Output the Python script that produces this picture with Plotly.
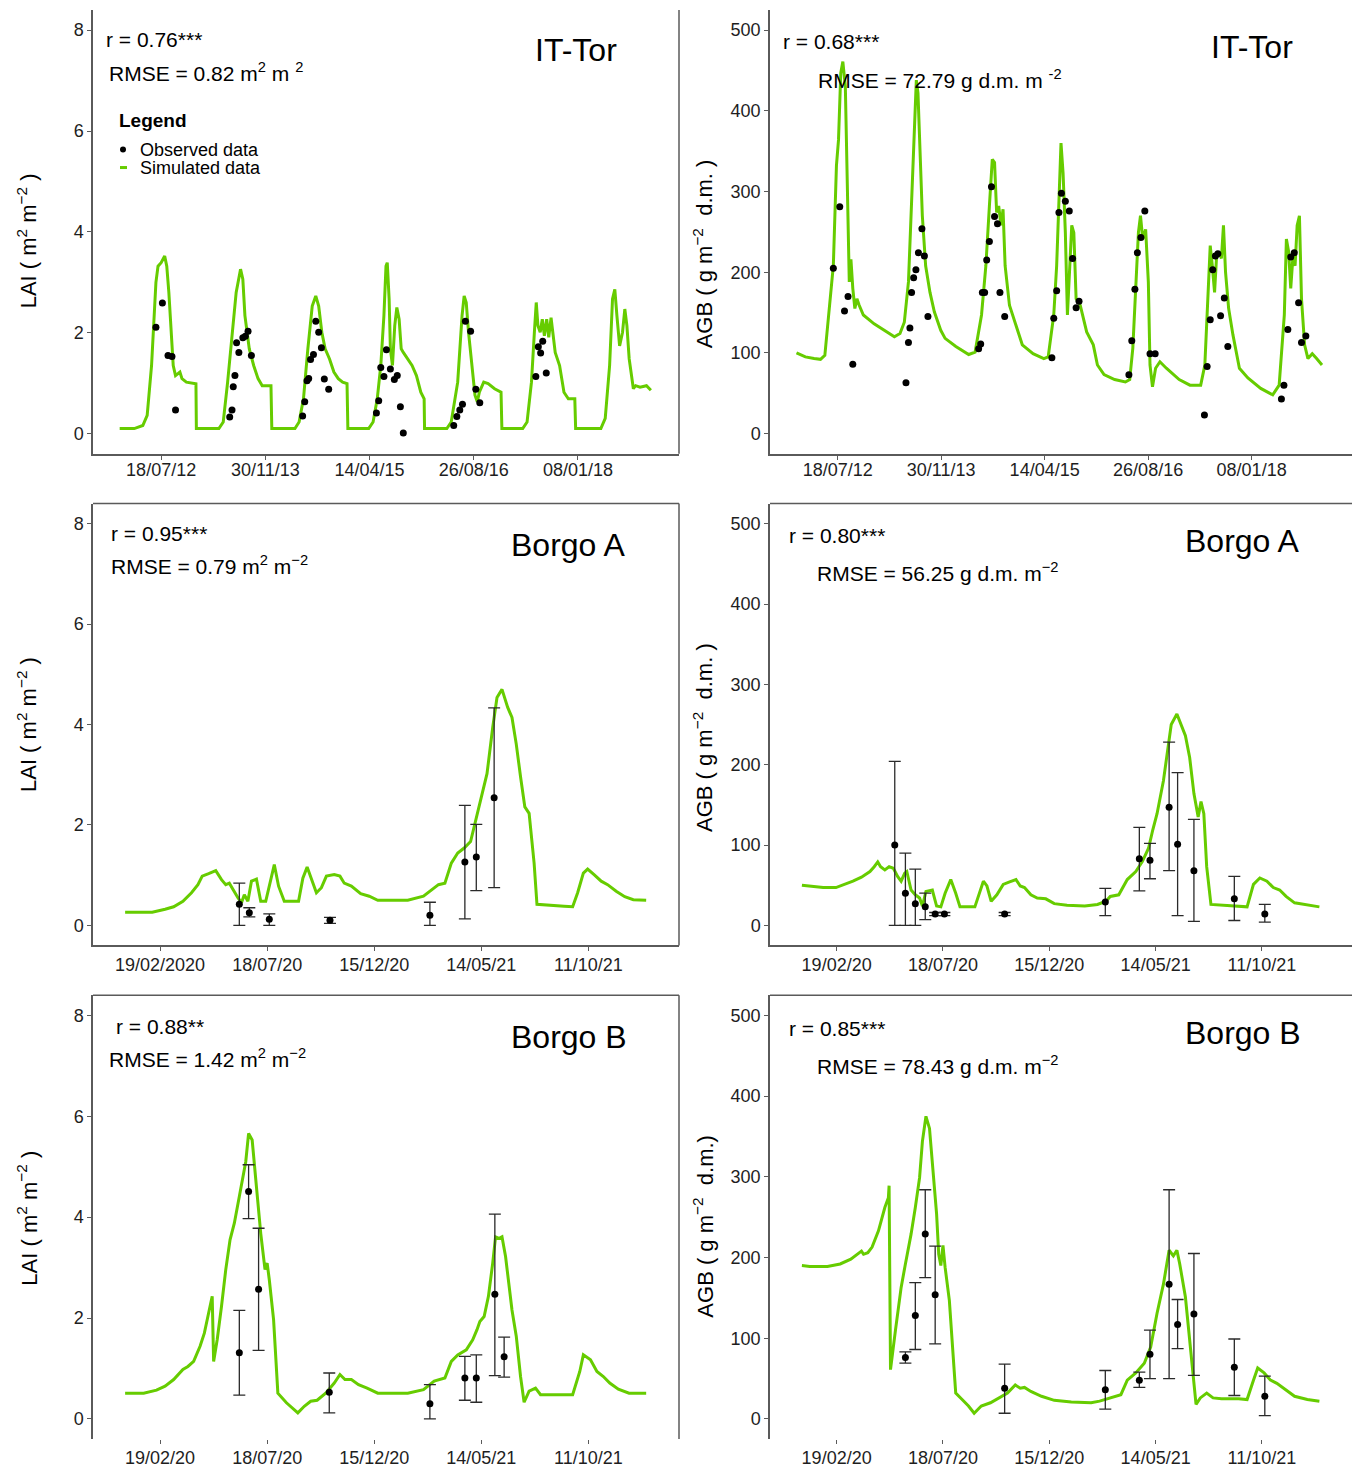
import pandas as pd
import plotly.graph_objects as go

FONT = "Liberation Sans, Arial, sans-serif"
GREEN = "#66CC00"

TOR_START = "2012-01-01"
BORGO_START = "2020-01-01"

# ---------------- IT-Tor ----------------
TOR_TICKS = ["2012-07-18", "2013-11-30", "2015-04-14", "2016-08-26", "2018-01-08"]
TOR_TICKTEXT = ["18/07/12", "30/11/13", "14/04/15", "26/08/16", "08/01/18"]

TOR_LAI_SIM_DAY = [0, 70, 111, 132, 153, 174, 184, 199, 216, 226, 236, 247, 257, 268, 289, 299, 320, 366, 368,
                   476, 497, 518, 539, 559, 580, 591, 601, 622, 643, 664, 684, 726, 730,
                   841, 861, 882, 903, 924, 941, 955, 970, 986, 1007, 1028, 1049, 1070, 1091, 1095,
                   1195, 1216, 1236, 1253, 1268, 1278, 1284, 1293, 1299, 1309, 1320, 1330, 1341, 1351, 1361,
                   1382, 1403, 1424, 1445, 1461, 1463,
                   1570, 1591, 1622, 1643, 1653, 1663, 1674, 1691, 1705, 1716, 1726, 1747, 1768, 1799, 1830, 1834,
                   1934, 1955, 1976, 1990, 1999, 2007, 2018, 2028, 2038, 2049, 2059, 2070, 2080, 2090, 2111,
                   2132, 2153, 2184, 2188,
                   2309, 2330, 2351, 2365, 2376, 2386, 2399, 2413, 2424, 2434, 2445, 2465, 2476, 2497, 2528, 2549]
TOR_LAI_SIM = [0.10, 0.10, 0.16, 0.36, 1.35, 3.00, 3.32, 3.39, 3.52, 3.32, 2.80, 2.01, 1.35, 1.15, 1.22, 1.09, 1.02, 0.99, 0.10,
               0.10, 0.23, 1.02, 2.01, 2.80, 3.26, 3.06, 2.34, 1.68, 1.35, 1.09, 0.95, 0.95, 0.10,
               0.10, 0.23, 0.69, 1.68, 2.53, 2.73, 2.53, 2.01, 1.68, 1.48, 1.22, 1.09, 1.02, 0.99, 0.10,
               0.10, 0.23, 0.69, 1.35, 2.34, 3.32, 3.39, 2.67, 1.68, 1.35, 2.14, 2.50, 2.27, 1.68, 1.61,
               1.48, 1.35, 1.15, 0.82, 0.69, 0.10,
               0.10, 0.23, 1.02, 2.34, 2.73, 2.60, 2.01, 1.35, 0.76, 0.63, 0.82, 1.02, 0.99, 0.89, 0.82, 0.10,
               0.10, 0.23, 1.02, 2.01, 2.60, 2.14, 2.01, 2.27, 1.94, 2.27, 1.91, 2.30, 1.88, 1.61, 1.35,
               0.82, 0.69, 0.69, 0.10,
               0.10, 0.30, 1.35, 2.67, 2.86, 2.34, 1.74, 2.01, 2.47, 2.14, 1.48, 0.89, 0.95, 0.92, 0.95, 0.86]

TOR_LAI_OBS_DAY = [174, 205, 232, 251, 268,
                   528, 539, 545, 553, 561, 572, 591, 603, 616, 632,
                   878, 888, 899, 907, 916, 930, 941, 955, 968, 982, 1003,
                   1232, 1243, 1253, 1268, 1280, 1299, 1318, 1332, 1347, 1361,
                   1603, 1618, 1632, 1645, 1659, 1684, 1709, 1728,
                   1997, 2009, 2020, 2030, 2047]
TOR_LAI_OBS = [2.11, 2.59, 1.55, 1.53, 0.47,
               0.33, 0.47, 0.93, 1.15, 1.80, 1.61, 1.90, 1.93, 2.03, 1.55,
               0.35, 0.63, 1.05, 1.09, 1.47, 1.57, 2.23, 2.01, 1.70, 1.08, 0.88,
               0.41, 0.65, 1.31, 1.13, 1.66, 1.28, 1.07, 1.15, 0.53, 0.01,
               0.16, 0.34, 0.47, 0.58, 2.23, 2.03, 0.88, 0.61,
               1.13, 1.72, 1.60, 1.83, 1.20]

TOR_AGB_SIM_DAY = [0, 43, 85, 116, 137, 157, 178, 193, 203, 214, 224, 236, 247, 255, 263, 272, 282, 292, 303, 323,
                   375, 427, 473, 500, 521, 541, 556, 568, 579, 587, 595, 608, 624, 645, 666, 697, 718, 770,
                   832, 863, 894, 915, 932, 946, 957, 967, 977, 988, 998, 1008, 1029, 1060, 1091, 1143,
                   1195, 1216, 1243, 1257, 1268, 1278, 1288, 1299, 1309, 1320, 1330, 1340, 1351, 1371, 1402,
                   1434, 1454, 1486, 1537, 1589, 1610, 1625, 1637, 1652, 1662, 1673, 1687, 1700, 1708, 1720,
                   1735, 1756, 1787, 1849, 1901, 1953, 1973, 1988, 1999, 2009, 2020, 2030, 2040, 2053, 2063,
                   2073, 2088, 2109, 2140, 2181, 2243, 2301, 2332, 2357, 2367, 2378, 2388, 2398, 2409, 2419,
                   2430, 2440, 2455, 2471, 2492, 2513, 2539]
TOR_AGB_SIM = [100, 95, 93, 92, 97, 147, 208, 332, 364, 447, 461, 430, 290, 188, 216, 180, 155, 167, 159, 147,
               136, 128, 120, 124, 138, 188, 290, 373, 438, 422, 352, 270, 208, 175, 151, 128, 118, 108,
               98, 101, 147, 208, 282, 340, 336, 274, 282, 258, 278, 208, 159, 134, 110, 99,
               93, 95, 147, 208, 282, 360, 323, 249, 147, 208, 258, 249, 167, 159, 126,
               110, 85, 73, 67, 64, 67, 106, 175, 249, 270, 241, 253, 188, 85, 58,
               81, 89, 81, 67, 60, 60, 85, 167, 233, 208, 175, 221, 225, 217, 258,
               200, 155, 122, 81, 69, 56, 48, 60, 147, 241, 225, 180, 217, 208, 258,
               270, 167, 110, 93, 99, 93, 85]

TOR_AGB_OBS_DAY = [178, 209, 232, 249, 272,
                   529, 541, 548, 556, 566, 577, 589, 606, 618, 635,
                   880, 890, 898, 909, 919, 932, 942, 957, 971, 983, 1006,
                   1234, 1243, 1257, 1268, 1280, 1299, 1318, 1334, 1351, 1365,
                   1606, 1620, 1635, 1647, 1664, 1683, 1708, 1733,
                   1971, 1984, 1999, 2011, 2024, 2036, 2049, 2067, 2084,
                   2343, 2355, 2374, 2388, 2405, 2426, 2440, 2461]
TOR_AGB_OBS = [205, 281, 152, 170, 86,
               63, 113, 131, 175, 193, 203, 224, 254, 220, 145,
               105, 111, 175, 175, 215, 238, 306, 269, 260, 175, 145,
               94, 143, 177, 274, 298, 288, 276, 217, 156, 164,
               73, 115, 179, 224, 243, 276, 99, 99,
               23, 83, 141, 203, 220, 223, 146, 168, 108,
               43, 60, 129, 219, 224, 162, 113, 121]

# ---------------- Borgo ----------------
BORGO_TICKS = ["2020-02-19", "2020-07-18", "2020-12-15", "2021-05-14", "2021-10-11"]
BORGO_TICKTEXT_A_LAI = ["19/02/2020", "18/07/20", "15/12/20", "14/05/21", "11/10/21"]
BORGO_TICKTEXT = ["19/02/20", "18/07/20", "15/12/20", "14/05/21", "11/10/21"]

BA_LAI_SIM_DAY = [0, 38, 56, 68, 81, 93, 102, 108, 117, 127, 135, 141, 146, 152, 158, 163, 167, 172, 177, 184,
                  190, 197, 203, 209, 215, 223, 243, 249, 255, 262, 268, 275, 282, 293, 301, 307, 317, 330, 342, 354,
                  396, 418, 427, 439, 448, 457, 466, 475, 484, 490, 500, 507, 515, 521, 528, 536, 542, 548, 554, 560,
                  566, 573, 577, 591, 615, 627, 634, 642, 648, 657, 667, 676, 688, 700, 712, 730]
BA_LAI_SIM = [0.26, 0.26, 0.32, 0.37, 0.48, 0.65, 0.81, 0.98, 1.03, 1.09, 0.91, 0.81, 0.84, 0.68, 0.55, 0.45, 0.61, 0.48, 0.88, 0.92,
              0.48, 0.48, 0.84, 1.21, 0.78, 0.48, 0.48, 0.94, 1.16, 0.88, 0.65, 0.75, 0.98, 1.01, 0.98, 0.84, 0.78, 0.63, 0.58, 0.50,
              0.50, 0.58, 0.68, 0.81, 0.84, 1.24, 1.44, 1.54, 1.67, 2.03, 2.63, 3.02, 3.94, 4.54, 4.70, 4.34, 4.14, 3.61, 2.96, 2.36,
              2.23, 1.24, 0.42, 0.40, 0.38, 0.37, 0.65, 1.04, 1.12, 1.01, 0.88, 0.81, 0.68, 0.57, 0.51, 0.50]
BA_LAI_OBS_DAY = [160, 174, 202, 287, 427, 476, 492, 517]
BA_LAI_OBS = [0.42, 0.25, 0.12, 0.10, 0.20, 1.26, 1.36, 2.54]
BA_LAI_HI = [0.84, 0.35, 0.23, 0.16, 0.46, 2.39, 2.01, 4.33]
BA_LAI_LO = [0.00, 0.17, 0.00, 0.04, 0.00, 0.13, 0.69, 0.75]

BA_AGB_SIM_DAY = [0, 11, 30, 48, 60, 72, 84, 96, 102, 107, 111, 117, 123, 129, 135, 140, 145, 148, 154, 160,
                  166, 170, 175, 184, 190, 196, 202, 210, 217, 223, 244, 252, 256, 261, 267, 275, 284, 293, 302, 308,
                  314, 323, 332, 344, 356, 374, 399, 417, 429, 435, 447, 459, 471, 480, 489, 495, 501, 510, 516, 521,
                  529, 535, 541, 547, 553, 559, 563, 567, 571, 577, 592, 616, 628, 637, 646, 656, 665, 674, 683, 695,
                  713, 730]
BA_AGB_SIM = [50, 49, 47, 47, 51, 55, 60, 67, 73, 79, 73, 69, 73, 71, 61, 55, 65, 67, 44, 38,
              34, 24, 42, 44, 24, 23, 40, 57, 40, 23, 23, 44, 55, 49, 30, 38, 51, 54, 57, 49,
              47, 38, 34, 33, 27, 25, 24, 26, 30, 36, 38, 57, 67, 79, 96, 119, 139, 180, 222, 250,
              263, 250, 236, 209, 164, 135, 154, 139, 73, 26, 25, 23, 23, 51, 59, 55, 47, 44, 36, 28,
              25, 23]
BA_AGB_OBS_DAY = [131, 146, 160, 174, 188, 201, 286, 428, 476, 491, 518, 530, 553, 610, 653]
BA_AGB_OBS = [100, 40, 27, 23, 14, 14, 14, 29, 83, 81, 147, 101, 68, 33, 14]
BA_AGB_HI = [204, 90, 70, 40, 16, 16, 16, 46, 122, 102, 228, 190, 132, 61, 26]
BA_AGB_LO = [0, 0, 0, 7, 12, 12, 12, 12, 43, 58, 68, 12, 5, 6, 4]

BB_LAI_SIM_DAY = [0, 26, 44, 56, 68, 81, 88, 96, 105, 111, 117, 122, 124, 129, 135, 141, 147, 153, 160, 164,
                  169, 173, 178, 184, 190, 196, 199, 202, 208, 214, 226, 242, 251, 260, 269, 281, 293, 301, 308, 317,
                  327, 339, 354, 396, 418, 433, 448, 457, 466, 478, 487, 493, 497, 503, 509, 515, 519, 524, 528, 533,
                  542, 548, 554, 559, 566, 575, 582, 597, 615, 627, 637, 642, 652, 661, 670, 679, 691, 706, 730]
BB_LAI_SIM = [0.51, 0.51, 0.57, 0.65, 0.78, 0.98, 1.04, 1.14, 1.44, 1.70, 2.10, 2.43, 1.14, 1.57, 2.23, 2.96, 3.55, 3.88, 4.41, 4.74,
              5.10, 5.66, 5.53, 4.60, 3.68, 2.96, 3.09, 2.76, 1.97, 0.51, 0.32, 0.12, 0.25, 0.35, 0.37, 0.51, 0.71, 0.88, 0.78, 0.78,
              0.68, 0.61, 0.51, 0.51, 0.58, 0.75, 0.81, 1.14, 1.27, 1.37, 1.57, 1.77, 1.93, 2.03, 2.43, 3.09, 3.61, 3.58, 3.61, 3.22,
              2.16, 1.64, 0.84, 0.33, 0.55, 0.61, 0.48, 0.48, 0.48, 0.48, 0.94, 1.27, 1.17, 0.94, 0.84, 0.71, 0.59, 0.51, 0.51]
BB_LAI_OBS_DAY = [160, 173, 187, 286, 427, 476, 492, 518, 531]
BB_LAI_OBS = [1.31, 4.51, 2.57, 0.53, 0.30, 0.81, 0.81, 2.47, 1.23]
BB_LAI_HI = [2.15, 5.04, 3.78, 0.91, 0.68, 1.24, 1.27, 4.06, 1.62]
BB_LAI_LO = [0.47, 3.97, 1.36, 0.12, 0.00, 0.37, 0.33, 0.86, 0.83]

BB_AGB_SIM_DAY = [0, 11, 36, 54, 69, 78, 84, 87, 93, 99, 108, 117, 122, 123, 125, 132, 140, 146, 154, 160,
                  166, 170, 175, 180, 184, 190, 193, 196, 199, 202, 208, 212, 217, 226, 235, 243, 253, 266, 278, 290,
                  301, 308, 314, 323, 338, 356, 380, 408, 420, 435, 450, 459, 471, 483, 492, 501, 510, 518, 524, 529,
                  533, 541, 550, 556, 562, 571, 580, 592, 616, 628, 637, 643, 652, 661, 670, 683, 695, 713, 730]
BB_AGB_SIM = [190, 189, 189, 192, 198, 204, 208, 204, 206, 213, 233, 262, 274, 289, 61, 110, 163, 192, 229, 262,
              299, 344, 375, 360, 315, 254, 204, 190, 215, 188, 147, 89, 32, 24, 16, 7, 16, 20, 26, 32,
              42, 38, 39, 34, 28, 23, 21, 20, 22, 26, 30, 48, 57, 69, 89, 131, 167, 209, 202, 209,
              192, 151, 69, 18, 26, 32, 26, 25, 25, 24, 48, 63, 57, 48, 44, 36, 28, 24, 22]
BB_AGB_OBS_DAY = [146, 160, 174, 188, 286, 428, 476, 491, 518, 530, 553, 610, 653]
BB_AGB_OBS = [76, 128, 229, 154, 38, 36, 48, 80, 167, 117, 130, 64, 28]
BB_AGB_HI = [83, 169, 284, 214, 68, 60, 58, 110, 284, 148, 205, 99, 53]
BB_AGB_LO = [69, 86, 175, 93, 7, 12, 39, 50, 50, 87, 54, 29, 4]

LEGEND_TITLE = "Legend"
LEGEND_LABELS = ["Observed data", "Simulated data"]


def dates(start, days):
    return pd.Timestamp(start) + pd.to_timedelta(days, unit="D")


W, H = 1355, 1468
fig = go.Figure()

# panel geometry (pixels): (left, right) and (top, bottom)
COLS = [(93, 679), (770, 1352)]
ROWS = [(10, 455), (505, 948), (998, 1443)]


def dom_x(c):
    return [COLS[c][0] / W, COLS[c][1] / W]


def dom_y(r):
    return [1 - ROWS[r][1] / H, 1 - ROWS[r][0] / H]


panels = [
    (0, 0, TOR_START, TOR_LAI_SIM_DAY, TOR_LAI_SIM, TOR_LAI_OBS_DAY, TOR_LAI_OBS, None, None, "LAI", TOR_TICKS, TOR_TICKTEXT),
    (0, 1, TOR_START, TOR_AGB_SIM_DAY, TOR_AGB_SIM, TOR_AGB_OBS_DAY, TOR_AGB_OBS, None, None, "AGB", TOR_TICKS, TOR_TICKTEXT),
    (1, 0, BORGO_START, BA_LAI_SIM_DAY, BA_LAI_SIM, BA_LAI_OBS_DAY, BA_LAI_OBS, BA_LAI_HI, BA_LAI_LO, "LAI", BORGO_TICKS, BORGO_TICKTEXT_A_LAI),
    (1, 1, BORGO_START, BA_AGB_SIM_DAY, BA_AGB_SIM, BA_AGB_OBS_DAY, BA_AGB_OBS, BA_AGB_HI, BA_AGB_LO, "AGB", BORGO_TICKS, BORGO_TICKTEXT),
    (2, 0, BORGO_START, BB_LAI_SIM_DAY, BB_LAI_SIM, BB_LAI_OBS_DAY, BB_LAI_OBS, BB_LAI_HI, BB_LAI_LO, "LAI", BORGO_TICKS, BORGO_TICKTEXT),
    (2, 1, BORGO_START, BB_AGB_SIM_DAY, BB_AGB_SIM, BB_AGB_OBS_DAY, BB_AGB_OBS, BB_AGB_HI, BB_AGB_LO, "AGB", BORGO_TICKS, BORGO_TICKTEXT),
]

AXCOL = "#5a5a5a"
TICKFONT = dict(family=FONT, size=18, color="#1e1e1e")

for i, (r, c, start, sd, sv, od, ov, hi, lo, kind, tv, tt) in enumerate(panels):
    n = i + 1
    xa = "x" if n == 1 else f"x{n}"
    ya = "y" if n == 1 else f"y{n}"
    fig.add_trace(go.Scatter(
        x=dates(start, sd), y=sv, mode="lines", xaxis=xa, yaxis=ya,
        line=dict(color=GREEN, width=3), name=LEGEND_LABELS[1],
        showlegend=False, hoverinfo="skip"))
    err = None
    if hi is not None:
        err = dict(type="data", symmetric=False,
                   array=[h - v for h, v in zip(hi, ov)],
                   arrayminus=[v - l for v, l in zip(ov, lo)],
                   color="#2a2a2a", thickness=1.3, width=6)
    fig.add_trace(go.Scatter(
        x=dates(start, od), y=ov, mode="markers", xaxis=xa, yaxis=ya,
        marker=dict(color="black", size=7), error_y=err, name=LEGEND_LABELS[0],
        showlegend=False))

    if start == TOR_START:
        xr = ["2011-08-26", "2019-05-08"]
    else:
        xr = ["2019-11-17", "2022-02-15"]
    if kind == "LAI":
        yr, ytv = [-0.4, 8.4], [0, 2, 4, 6, 8]
    else:
        yr, ytv = [-25, 525], [0, 100, 200, 300, 400, 500]

    fig.update_layout(**{
        ("xaxis" if n == 1 else f"xaxis{n}"): dict(
            domain=dom_x(c), anchor=ya, type="date", range=xr,
            tickmode="array", tickvals=tv, ticktext=tt,
            ticks="outside", ticklen=4, tickcolor=AXCOL, tickwidth=1,
            ticklabelstandoff=(-5 if r == 0 else -2),
            showline=(r < 2), linecolor=AXCOL, linewidth=1.5,
            showgrid=False, zeroline=False, tickfont=TICKFONT),
        ("yaxis" if n == 1 else f"yaxis{n}"): dict(
            domain=dom_y(r), anchor=xa, range=yr,
            tickmode="array", tickvals=ytv, ticks="outside", ticklen=4,
            tickcolor=AXCOL, tickwidth=1, showline=True, linecolor=AXCOL,
            linewidth=1.5, showgrid=False, zeroline=False, tickfont=TICKFONT),
    })

# extra panel borders (as in the composed figure)
borders = {1: ["right"], 2: [], 3: ["top", "right"], 4: ["top"], 5: ["top", "right"], 6: ["top"]}
for n, sides in borders.items():
    xr_ = "x domain" if n == 1 else f"x{n} domain"
    yr_ = "y domain" if n == 1 else f"y{n} domain"
    for s in sides:
        if s == "right":
            fig.add_shape(type="line", xref=xr_, yref=yr_, x0=1, x1=1, y0=0, y1=1,
                          line=dict(color=AXCOL, width=1.5))
        else:
            fig.add_shape(type="line", xref=xr_, yref=yr_, x0=0, x1=1, y0=1, y1=1,
                          line=dict(color=AXCOL, width=1.5))

# texts
LAI_T = "LAI ( m<sup>2</sup> m<sup>\u22122</sup> )"
AGB_T = "AGB ( g m<sup>\u22122</sup>  d.m. )"
AGB_T2 = "AGB ( g m<sup>\u22122</sup>  d.m.)"

texts = [
    (104, 40, "r = 0.76***", 21),
    (107, 72, "RMSE = 0.82 m<sup>2</sup> m <sup>2</sup>", 21),
    (533, 50, "IT-Tor", 32),
    (781, 42, "r = 0.68***", 21),
    (816, 79, "RMSE = 72.79 g d.m. m <sup>-2</sup>", 21),
    (1209, 47, "IT-Tor", 32),
    (109, 535, "r = 0.95***", 21),
    (109, 567, "RMSE = 0.79 m<sup>2</sup> m<sup>\u22122</sup>", 21),
    (509, 546, "Borgo A", 32),
    (787, 537, "r = 0.80***", 21),
    (815, 574, "RMSE = 56.25 g d.m. m<sup>\u22122</sup>", 21),
    (1183, 542, "Borgo A", 32),
    (114, 1029, "r = 0.88**", 21),
    (107, 1061, "RMSE = 1.42 m<sup>2</sup> m<sup>\u22122</sup>", 21),
    (509, 1040, "Borgo B", 32),
    (787, 1031, "r = 0.85***", 21),
    (815, 1068, "RMSE = 78.43 g d.m. m<sup>\u22122</sup>", 21),
    (1183, 1036, "Borgo B", 32),
]
for x, y, t, s in texts:
    fig.add_annotation(xref="paper", yref="paper", x=x / W, y=1 - y / H, text=t,
                       showarrow=False, xanchor="left", yanchor="middle",
                       font=dict(family=FONT, size=s, color="black"))

ytitles = [(27, 242, LAI_T), (703, 255, AGB_T), (27, 727, LAI_T), (703, 740, AGB_T),
           (27, 1222, LAI_T), (703, 1230, AGB_T2)]
for x, y, t in ytitles:
    fig.add_annotation(xref="paper", yref="paper", x=x / W, y=1 - y / H, text=t,
                       showarrow=False, xanchor="center", yanchor="middle", textangle=-90,
                       font=dict(family=FONT, size=22, color="black"))

# legend (drawn inside the first panel, as in the reference)
fig.add_annotation(xref="paper", yref="paper", x=117 / W, y=1 - 121 / H,
                   text=f"<b>{LEGEND_TITLE}</b>", showarrow=False, xanchor="left", yanchor="middle",
                   font=dict(family=FONT, size=19, color="black"))
for k, (lab, yy) in enumerate(zip(LEGEND_LABELS, [150, 168])):
    fig.add_annotation(xref="paper", yref="paper", x=138 / W, y=1 - yy / H,
                       text=lab, showarrow=False, xanchor="left", yanchor="middle",
                       font=dict(family=FONT, size=18, color="black"))
fig.add_shape(type="circle", xref="paper", yref="paper",
              x0=120 / W, x1=126 / W, y0=1 - 153 / H, y1=1 - 147 / H,
              fillcolor="black", line=dict(color="black", width=0))
fig.add_shape(type="line", xref="paper", yref="paper",
              x0=120 / W, x1=127 / W, y0=1 - 168 / H, y1=1 - 168 / H,
              line=dict(color=GREEN, width=3))

fig.update_layout(
    width=W, height=H, margin=dict(l=0, r=0, t=0, b=0),
    paper_bgcolor="white", plot_bgcolor="white",
    font=dict(family=FONT), showlegend=False,
)

fig.write_html("out.html")
